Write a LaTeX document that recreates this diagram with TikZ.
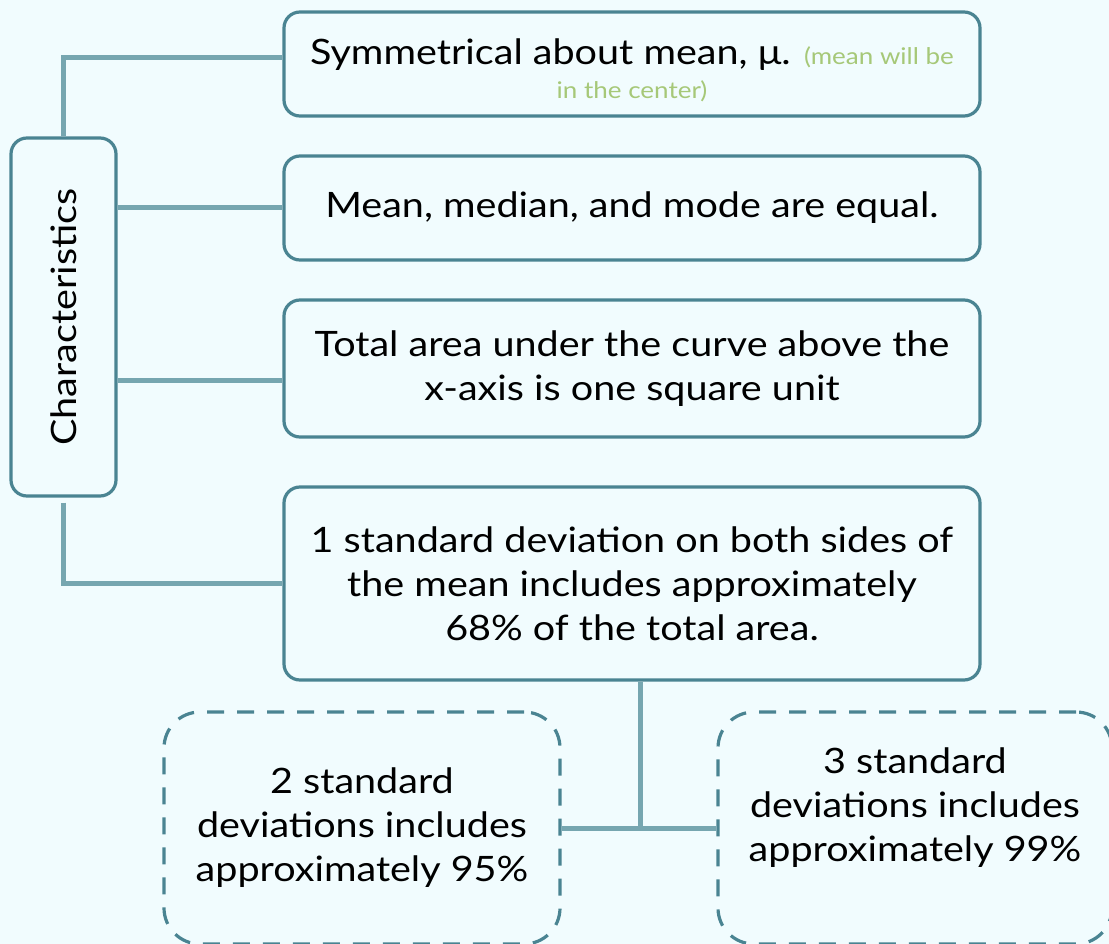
\documentclass[tikz,border=0pt]{standalone}
\usepackage{fontspec}
\setmainfont{Lato}[FakeStretch=1.13]
\definecolor{bgc}{RGB}{241,252,254}
\definecolor{edgec}{RGB}{74,132,146}
\definecolor{linkc}{RGB}{118,166,176}
\definecolor{notec}{RGB}{166,200,120}
\tikzset{
  card/.style={draw=edgec, line width=3.2pt, rounded corners=16pt, fill=bgc, inner sep=0pt, align=center,
    font=\fontsize{35}{44}\selectfont},
  dcard/.style={card, dash pattern=on 17pt off 13pt, rounded corners=36pt},
  link/.style={draw=linkc, line width=5pt},
  txt/.style={align=center, font=\fontsize{35}{44}\selectfont, inner sep=0pt}
}
\newcommand{\notetext}[1]{{\fontsize{23}{30}\selectfont\color{notec}#1}}
\begin{document}
\begin{tikzpicture}[x=1pt,y=-1pt]
\fill[bgc] (0,0) rectangle (1109,944);
\useasboundingbox (0,0) rectangle (1109,944);
\coordinate (c1) at (63,58);
\coordinate (c3) at (116,380);
\coordinate (c4) at (63,583);
\coordinate (j) at (640,828);
\node[card, minimum width=105pt, minimum height=358pt] (ch) at (63.5,317) {};
\node[txt, rotate=90] (cht) at (63.5,317) {Characteristics};
\node[card, minimum width=696pt, minimum height=104pt] (b1) at (632,64) {};
\node[txt] (b1t) at (632,70) {Symmetrical about mean, μ. \notetext{(mean will be}\\[-10pt]\notetext{in the center)}};
\node[card, minimum width=696pt, minimum height=104pt] (b2) at (632,208) {Mean, median, and mode are equal.};
\node[card, minimum width=696pt, minimum height=137pt] (b3) at (632,368.5) {Total area under the curve above the\\x-axis is one square unit};
\node[card, minimum width=696pt, minimum height=193pt] (b4) at (632,583.5) {1 standard deviation on both sides of\\the mean includes approximately\\68\% of the total area.};
\node[dcard, minimum width=396pt, minimum height=232pt] (d2) at (362,828) {2 standard\\deviations includes\\approximately 95\%};
\node[dcard, minimum width=394pt, minimum height=232pt] (d3) at (915,828) {};
\node[txt] (d3t) at (915,808) {3 standard\\deviations includes\\approximately 99\%};
\draw[link] (ch.north -| c1) -- (c1) -- (c1 -| b1.west);
\draw[link] (ch.east |- b2.west) -- (b2.west);
\draw[link] (ch.east |- c3) -- (c3 -| b3.west);
\draw[link] (ch.south -| c4) ++(0,5) -- (c4) -- (c4 -| b4.west);
\draw[link] (b4.south -| j) -- (j);
\draw[link] (d2.east |- j) -- (d3.west |- j);
\end{tikzpicture}
\end{document}
